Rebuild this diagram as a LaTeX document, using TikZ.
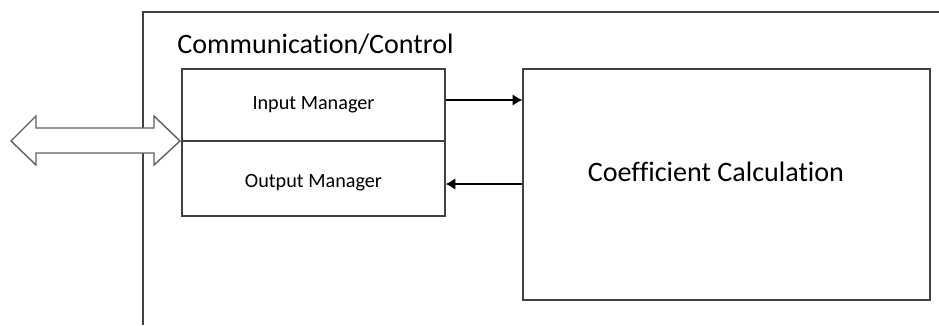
\documentclass[tikz,border=0pt]{standalone}
\usepackage{fontspec}
\setmainfont{Carlito}[Ligatures=NoCommon]
\usepackage{tikz}
\usetikzlibrary{arrows,arrows.meta,shapes,positioning}
\usepackage{xcolor}
\definecolor{ccdark}{RGB}{64,64,64}
\definecolor{ccgray}{RGB}{96,96,96}
\tikzstyle{arrow} = [line width=0.8pt,-{Latex[length=5.5pt,width=6.5pt]},color=black]
\tikzstyle{mgrbox} = [rectangle, minimum width=5.26cm, text centered, draw=ccdark, line width=0.8pt, font=\fontsize{11.5}{13}\selectfont]
\tikzstyle{calcbox} = [rectangle, minimum width=8.14cm, minimum height=4.62cm, draw=ccdark, line width=0.8pt]

\begin{document}
\begin{tikzpicture}[x=0.02cm, y=-0.02cm]
    \useasboundingbox (0,0) rectangle (939,325);

    % Outer frame
    \draw[ccdark, line width=0.8pt] (143,325) -- (143,12) -- (939,12);
    \node[anchor=base west, inner sep=0, font=\fontsize{16}{19}\selectfont] (title) at (177,53) {Communication/Control};

    % Manager layer
    \node[mgrbox, minimum height=1.44cm] (inmgr) at (313.5,105) {Input Manager};
    \node[mgrbox, minimum height=1.5cm, text height=12pt] (outmgr) at (313.5,178.5) {Output Manager};

    % Calculation layer
    \node[calcbox, label={[xshift=-0.21cm, yshift=0.25cm, font=\fontsize{16}{19}\selectfont]center:Coefficient Calculation}] (calc) at (726.5,184.5) {};

    % External link
    \coordinate (link) at (180,141);
    \filldraw[fill=white, draw=ccgray, line width=0.8pt] (link) -- ++(-26,-25) -- ++(0,12) -- ++(-118,0) -- ++(0,-12)
        -- ++(-25,25) -- ++(25,24) -- ++(0,-12) -- ++(118,0) -- ++(0,12) -- cycle;

    % Connections
    \draw[arrow] ([yshift=0.1cm]inmgr.east) -- ([yshift=0.1cm]inmgr.east -| calc.west);
    \draw[arrow] ([yshift=-0.11cm]outmgr.east -| calc.west) -- ([yshift=-0.11cm]outmgr.east);
\end{tikzpicture}
\end{document}
